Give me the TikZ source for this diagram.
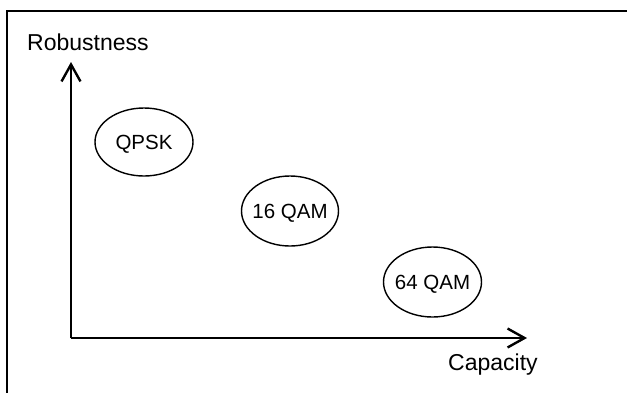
\documentclass[tikz,border=0pt]{standalone}
\usepackage{fontspec}
\setmainfont{Liberation Sans}
\usetikzlibrary{shapes.geometric,arrows.meta}
\begin{document}
\begin{tikzpicture}[x=1pt,y=-1pt,
  frame/.style={line width=2pt},
  axis/.style={line width=2.4pt,-{Straight Barb[length=17pt,width=19pt,line width=2.4pt]}},
  axislabel/.style={font=\fontsize{23}{27}\selectfont,inner sep=0pt},
  % negative x inner sep keeps the outline at its minimum size around wide labels
  mod/.style={draw,ellipse,line width=1.4pt,inner ysep=0pt,inner xsep=-15pt,
    font=\fontsize{20.5}{24}\selectfont,text height=15pt,text depth=0pt},
]
\useasboundingbox (0,0) rectangle (627,392);
% outer frame (its right and bottom sides run off the page)
\draw[frame] (7,400) -- (7,11) -- (640,11);

% axes
\coordinate (o) at (71,338);
\coordinate (ytip) at (71,62);
\coordinate (xtip) at (527,338);
\draw[axis] (o) -- (ytip);
\draw[axis] (o) -- (xtip);
\node[axislabel,anchor=base west] (rob) at (27,50) {Robustness};
\node[axislabel,anchor=base west] (cap) at (448,370) {Capacity};

% modulation schemes
\node[mod,minimum width=98pt,minimum height=68pt] (qpsk) at (144,142) {QPSK};
\node[mod,minimum width=97pt,minimum height=70pt] (qam16) at (290,211) {16 QAM};
\node[mod,minimum width=98pt,minimum height=70pt] (qam64) at (432.5,282) {64 QAM};
\end{tikzpicture}
\end{document}
